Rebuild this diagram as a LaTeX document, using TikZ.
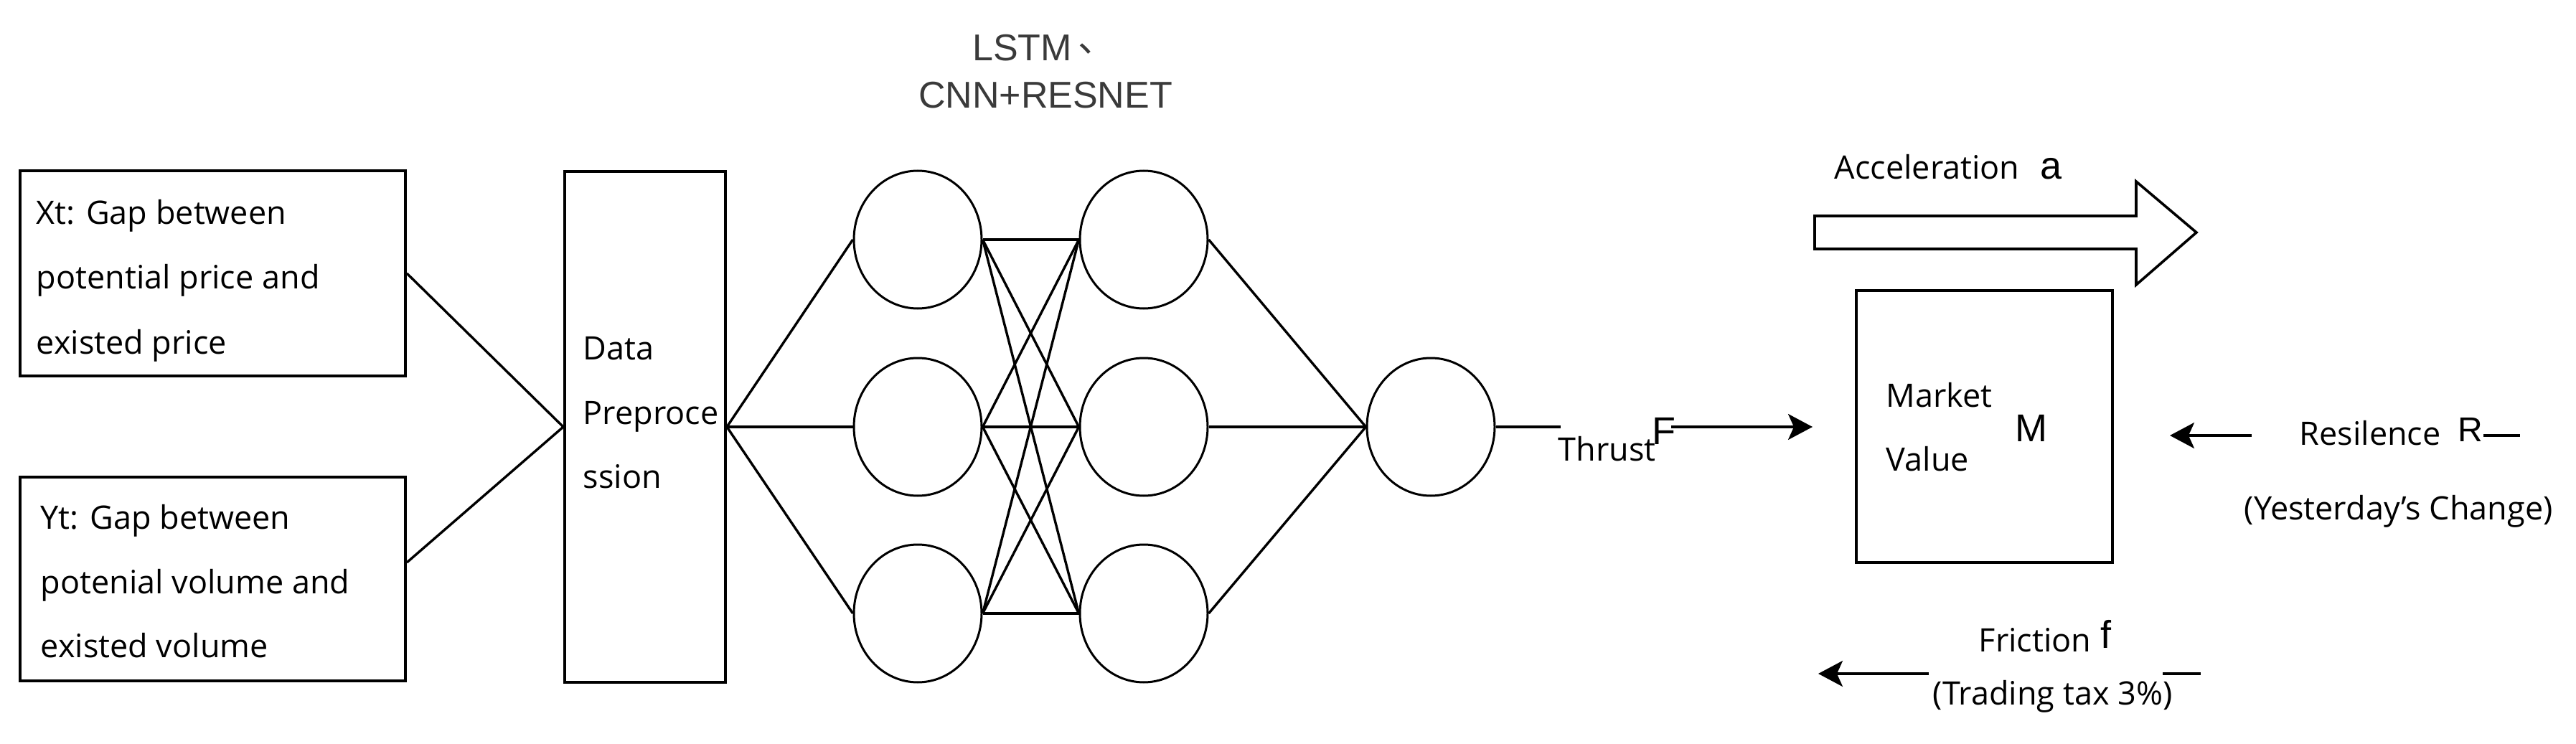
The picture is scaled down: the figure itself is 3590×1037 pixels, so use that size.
\documentclass[tikz,border=0pt]{standalone}
\usepackage{fontspec}
\setmainfont{Open Sans}
\newfontfamily\arialf{Liberation Sans}
\newfontfamily\cjkf{Noto Sans CJK SC}
\usetikzlibrary{shapes.geometric,arrows.meta}
\definecolor{titlegray}{HTML}{3A3A3A}
\begin{document}
\begin{tikzpicture}[x=0.25pt,y=-0.25pt,
  boxnode/.style={draw,line width=1pt,inner sep=0pt,rectangle},
  neuron/.style={draw,ellipse,line width=0.75pt,inner sep=0pt,minimum width=44.5pt,minimum height=48pt},
  txt/.style={anchor=base west,inner sep=0pt,font=\fontsize{11.25}{13}\selectfont},
  atxt/.style={anchor=base west,inner sep=0pt,font=\arialf\fontsize{13.5}{16}\selectfont},
  link/.style={line width=0.85pt},
  force/.style={line width=0.8pt,-{Stealth[length=8.5pt,width=9pt,inset=2pt]}}
]
\fill[white] (0,0) rectangle (3590,1037);
\useasboundingbox (0,0) rectangle (3590,1037);

% boxes
\node[boxnode,minimum width=134.25pt,minimum height=71.5pt] (xt) at (296.5,381) {};
\node[boxnode,minimum width=134.25pt,minimum height=71pt] (yt) at (296.5,807) {};
\node[boxnode,minimum width=56pt,minimum height=177.75pt] (data) at (899,595) {};
\node[boxnode,minimum width=89.25pt,minimum height=94.75pt] (mv) at (2765.5,594.5) {};

% box texts
\node[txt] (xt1) at (50,312) {Xt: Gap between};
\node[txt] (xt2) at (50,402) {potential price and};
\node[txt] (xt3) at (50,493) {existed price};
\node[txt] (yt1) at (56,737) {Yt: Gap between};
\node[txt] (yt2) at (56,827) {potenial volume and};
\node[txt] (yt3) at (56,916) {existed volume};
\node[txt] (dp1) at (812,501) {Data};
\node[txt] (dp2) at (812,591) {Preproce};
\node[txt] (dp3) at (812,680) {ssion};

% title
\node[anchor=base,inner sep=0pt,font=\arialf\fontsize{13}{15}\selectfont,text=titlegray] (t1) at (1455,85) {LSTM\,\raisebox{3pt}{\cjkf 、}};
\node[anchor=base,inner sep=0pt,font=\arialf\fontsize{13}{15}\selectfont,text=titlegray] (t2) at (1457,151) {CNN+RESNET};

% neurons
\node[neuron] (a1) at (1279,334) {};
\node[neuron] (a2) at (1279,595) {};
\node[neuron] (a3) at (1279,855) {};
\node[neuron] (b1) at (1594,334) {};
\node[neuron] (b2) at (1594,595) {};
\node[neuron] (b3) at (1594,855) {};
\node[neuron] (o) at (1994,595) {};

% links
\draw[link] (xt.east) -- (data.west);
\draw[link] ([yshift=5.75pt]yt.east) -- (data.west);
\foreach \i in {1,2,3} \draw[link] (data.east) -- (a\i.west);
\foreach \i in {1,2,3} \foreach \j in {1,2,3} \draw[link] (a\i.east) -- (b\j.west);
\foreach \j in {1,2,3} \draw[link] (b\j.east) -- (o.west);

% thrust
\coordinate (thrA) at (2175,595);
\draw[link] (o.east) -- (thrA);
\node[txt] (thrust) at (2171,642) {Thrust};
\node[atxt] (F) at (2302,619) {F};
\coordinate (thrB) at (2329,595);
\coordinate (thrTip) at (2526,595);
\draw[force] (thrB) -- (thrTip);

% acceleration
\node[txt] (acc) at (2556,250) {Acceleration};
\node[atxt] (acca) at (2843,250) {a};
\draw[line width=0.9pt,line join=miter] (2529,301) -- (2977,301) -- (2977,253) -- (3061,324) -- (2977,397) -- (2977,347) -- (2529,347) -- cycle;

% market
\node[txt] (mk1) at (2628,567) {Market};
\node[txt] (mk2) at (2628,656) {Value};
\node[atxt] (M) at (2808,615) {M};

% resilence
\coordinate (resA) at (3138,607);
\coordinate (resTip) at (3024,607);
\draw[force] (resA) -- (resTip);
\node[txt] (res) at (3204,620) {Resilence};
\node[atxt,font=\arialf\fontsize{12}{14}\selectfont] (R) at (3425,615) {R};
\coordinate (rl2) at (3512,607);
\draw[line width=0.8pt] (R.east |- rl2) -- (rl2);
\node[txt] (yest) at (3127,724) {(Yesterday's Change)};

% friction
\node[txt] (fr) at (2757,908) {Friction};
\node[atxt] (fsym) at (2927,903) {f};
\coordinate (frA) at (2688,939);
\coordinate (frTip) at (2534,939);
\draw[force] (frA) -- (frTip);
\node[txt] (tax) at (2693,982) {(Trading tax 3\%)};
\coordinate (fl1) at (3014,939);
\coordinate (fl2) at (3067,939);
\draw[line width=0.8pt] (fl1) -- (fl2);
\end{tikzpicture}
\end{document}
